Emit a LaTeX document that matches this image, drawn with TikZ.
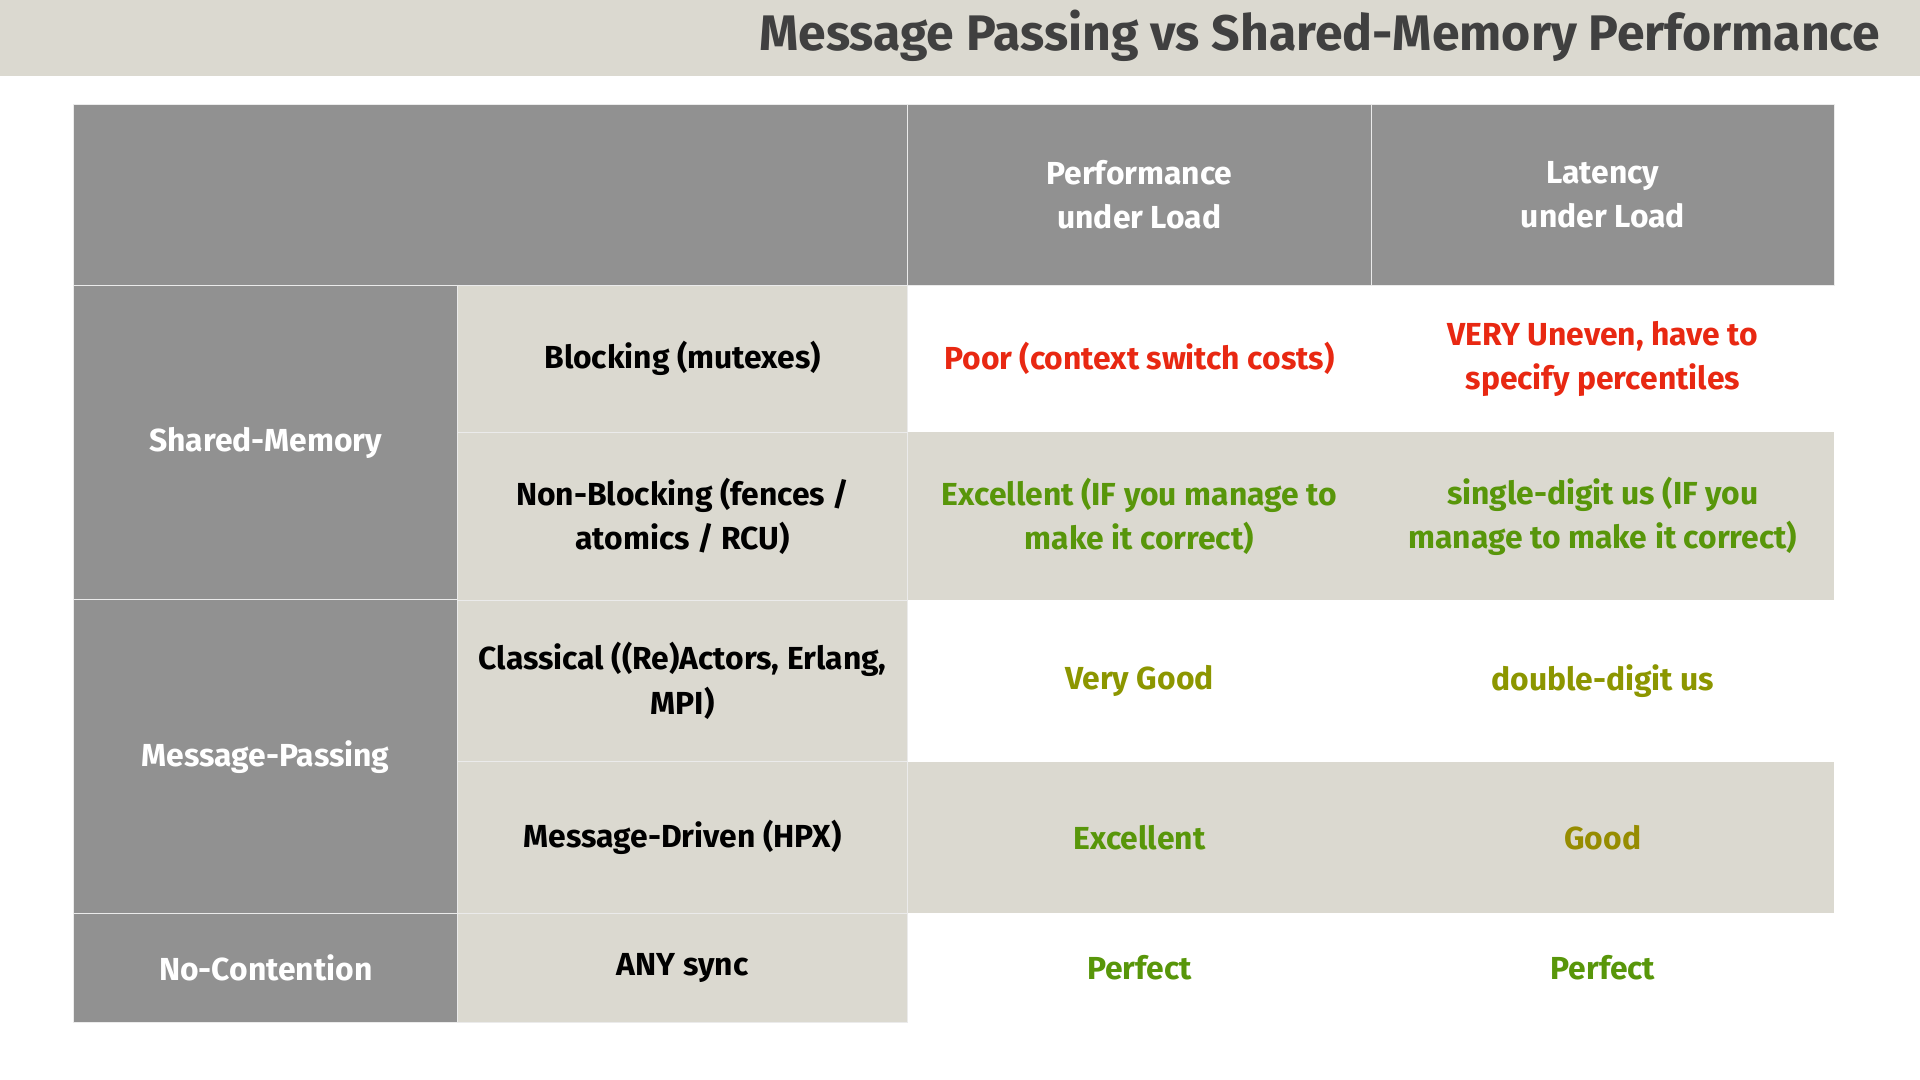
\documentclass[tikz,border=0pt]{standalone}
\usepackage{fontspec}
\setmainfont{Fira Sans}
\usetikzlibrary{positioning}
\definecolor{tbbeige}{RGB}{219,217,208}
\definecolor{tbgray}{RGB}{145,145,145}
\definecolor{tbtitle}{RGB}{64,64,64}
\definecolor{tbred}{RGB}{232,40,18}
\definecolor{tbgreen}{RGB}{88,150,10}
\definecolor{tbolive}{RGB}{140,150,0}
\definecolor{tbgold}{RGB}{150,140,0}
\tikzset{
  cell/.style={rectangle, inner sep=0pt, align=center, font=\fontsize{7.4pt}{10.3pt}\selectfont\bfseries, draw=white!92!black, line width=0.2pt},
  head/.style={cell, fill=tbgray, text=white},
  kind/.style={cell, fill=tbbeige, text=black},
}
\begin{document}
\begin{tikzpicture}[x=0.01cm, y=-0.01cm]
    \useasboundingbox (0,0) rectangle (1568,882);
    % Title bar
    \fill[tbbeige] (0,0) rectangle (1568,62);
    \node[anchor=east, text=tbtitle, font=\fontsize{11.6pt}{14pt}\selectfont\bfseries] (title) at (1548,29) {Message Passing vs Shared-Memory Performance};

    % Row backgrounds
    \fill[tbbeige] (741,353) rectangle (1498,490);
    \fill[tbbeige] (741,622) rectangle (1498,746);

    % Header
    \node[head, minimum width=6.81cm, minimum height=1.48cm] (corner) at (400.5,159) {};
    \node[head, minimum width=3.79cm, minimum height=1.48cm] (perf) at (930.5,159) {Performance\\under Load};
    \node[head, minimum width=3.78cm, minimum height=1.48cm] (lat) at (1309,159) {Latency\\under Load};

    % Categories
    \node[head, minimum width=3.14cm, minimum height=2.57cm] (shared) at (217,361.5) {Shared-Memory};
    \node[head, minimum width=3.14cm, minimum height=2.56cm] (msg) at (217,618) {Message-Passing};
    \node[head, minimum width=3.14cm, minimum height=0.89cm] (nocont) at (217,790.5) {No-Contention};

    % Kinds
    \node[kind, minimum width=3.67cm, minimum height=1.20cm] (block) at (557.5,293) {Blocking (mutexes)};
    \node[kind, minimum width=3.67cm, minimum height=1.37cm] (nonblock) at (557.5,421.5) {Non-Blocking (fences /\\atomics / RCU)};
    \node[kind, minimum width=3.67cm, minimum height=1.32cm] (classic) at (557.5,556) {Classical ((Re)Actors, Erlang,\\MPI)};
    \node[kind, minimum width=3.67cm, minimum height=1.24cm] (hpx) at (557.5,684) {Message-Driven (HPX)};
    \node[kind, minimum width=3.67cm, minimum height=0.89cm] (anysync) at (557.5,790.5) {ANY sync};

    % Values
    \node[cell, draw=none, text=tbred] (blockperf) at (930.5,293) {Poor (context switch costs)};
    \node[cell, draw=none, text=tbred] (blocklat) at (1309,293) {VERY Uneven, have to\\specify percentiles};
    \node[cell, draw=none, text=tbgreen] (nbperf) at (930.5,421.5) {Excellent (IF you manage to\\make it correct)};
    \node[cell, draw=none, text=tbgreen] (nblat) at (1309,421.5) {single-digit us (IF you\\manage to make it correct)};
    \node[cell, draw=none, text=tbolive] (clperf) at (930.5,556) {Very Good};
    \node[cell, draw=none, text=tbolive] (cllat) at (1309,556) {double-digit us};
    \node[cell, draw=none, text=tbgreen] (hpxperf) at (930.5,684) {Excellent};
    \node[cell, draw=none, text=tbgold] (hpxlat) at (1309,684) {Good};
    \node[cell, draw=none, text=tbgreen] (ncperf) at (930.5,790.5) {Perfect};
    \node[cell, draw=none, text=tbgreen] (nclat) at (1309,790.5) {Perfect};
\end{tikzpicture}
\end{document}
